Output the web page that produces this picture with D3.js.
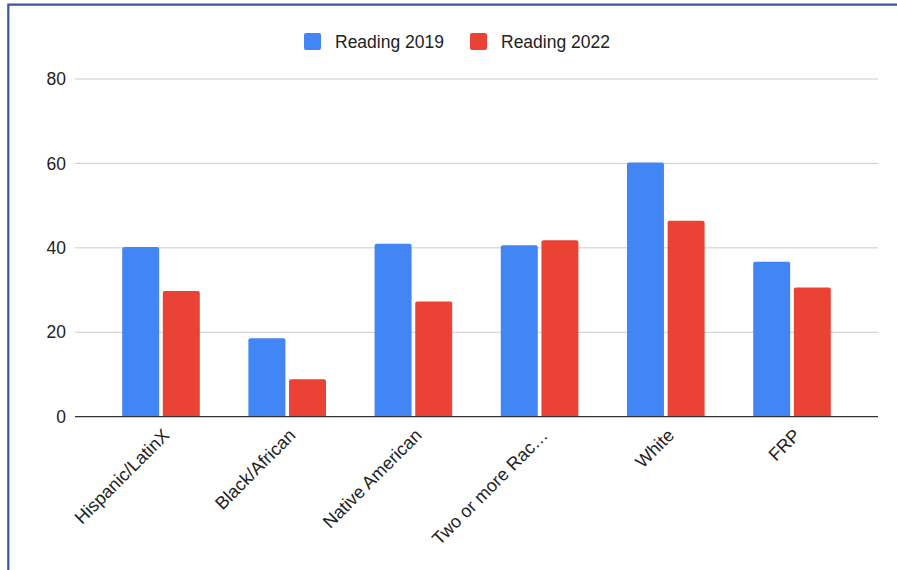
<!DOCTYPE html>
<html>
<head>
<meta charset="utf-8">
<script src="https://cdn.jsdelivr.net/npm/d3@7"></script>
<style>
  body { margin: 0; background: #fff; }
  svg { display: block; font-family: Arial, "Liberation Sans", sans-serif; }
</style>
</head>
<body>
<script>
const categories = ['Hispanic/LatinX', 'Black/African', 'Native American', 'Two or more Rac\u2026', 'White', 'FRP']
const seriesNames = ['Reading 2019', 'Reading 2022']
const reading2019 = [40.2, 18.6, 41.0, 40.6, 60.2, 36.7]
const reading2022 = [29.8, 8.9, 27.3, 41.8, 46.4, 30.6]
const yTicks = [0, 20, 40, 60, 80]
const colors = ['#4285F4', '#EA4335']

const m = { width: 897, height: 570, left: 75, right: 878, top: 79, bottom: 416.7 }

const svg = d3.select('body').append('svg')
    .attr('width', m.width)
    .attr('height', m.height)

// frame border
svg.append('path')
    .attr('d', 'M8.3,570 V4.7 H897')
    .attr('fill', 'none')
    .attr('stroke', '#355a9a')
    .attr('stroke-width', 2.2)

const x = d3.scaleBand()
    .domain(categories)
    .range([m.left, m.right])
    .paddingInner(0.385)
    .paddingOuter(0.374)

const xs = d3.scaleBand()
    .domain(seriesNames)
    .range([0, x.bandwidth()])
    .paddingInner(0.09)

const y = d3.scaleLinear()
    .domain([0, 80])
    .range([m.bottom, m.top])

// gridlines
svg.append('g')
    .selectAll('line')
    .data(yTicks.filter(d => d > 0))
    .enter()
    .append('line')
        .attr('x1', m.left)
        .attr('x2', m.right)
        .attr('y1', d => y(d))
        .attr('y2', d => y(d))
        .attr('stroke', '#cccccc')
        .attr('stroke-width', 1)

// y labels
svg.append('g')
    .selectAll('text')
    .data(yTicks)
    .enter()
    .append('text')
        .attr('x', 66)
        .attr('y', d => y(d))
        .attr('dy', '0.35em')
        .attr('text-anchor', 'end')
        .attr('font-size', 17.5)
        .attr('fill', '#222')
        .text(d => d)

// bars
const rows = categories.map((c, i) => ({ cat: c, vals: [reading2019[i], reading2022[i]] }))

const groups = svg.append('g')
    .selectAll('g')
    .data(rows)
    .enter()
    .append('g')
        .attr('transform', d => `translate(${x(d.cat)},0)`)

groups.selectAll('path')
    .data(d => d.vals.map((v, j) => ({ s: seriesNames[j], v: v, j: j })))
    .enter()
    .append('path')
        .attr('fill', d => colors[d.j])
        .attr('d', d => {
            const x0 = xs(d.s), w = xs.bandwidth()
            const top = y(d.v), bot = y(0), r = 2
            return `M${x0},${bot} V${top + r} Q${x0},${top} ${x0 + r},${top} H${x0 + w - r} Q${x0 + w},${top} ${x0 + w},${top + r} V${bot} Z`
        })

// baseline
svg.append('line')
    .attr('x1', m.left)
    .attr('x2', m.right)
    .attr('y1', y(0))
    .attr('y2', y(0))
    .attr('stroke', '#333')
    .attr('stroke-width', 1.3)

// x labels
svg.append('g')
    .selectAll('text')
    .data(categories)
    .enter()
    .append('text')
        .attr('transform', d => `translate(${x(d) + x.bandwidth() / 2 + 1},428) rotate(-45)`)
        .attr('dy', 12)
        .attr('text-anchor', 'end')
        .attr('font-size', 18)
        .attr('fill', '#222')
        .text(d => d)

// legend
const legendX = [304, 470]
const legend = svg.append('g')
    .selectAll('g')
    .data(seriesNames)
    .enter()
    .append('g')
        .attr('transform', (d, i) => `translate(${legendX[i]},33)`)

legend.append('rect')
    .attr('width', 17)
    .attr('height', 17)
    .attr('rx', 2)
    .attr('fill', (d, i) => colors[i])

legend.append('text')
    .attr('x', 31)
    .attr('y', 14.5)
    .attr('font-size', 17.5)
    .attr('fill', '#222')
    .text(d => d)
</script>
</body>
</html>
